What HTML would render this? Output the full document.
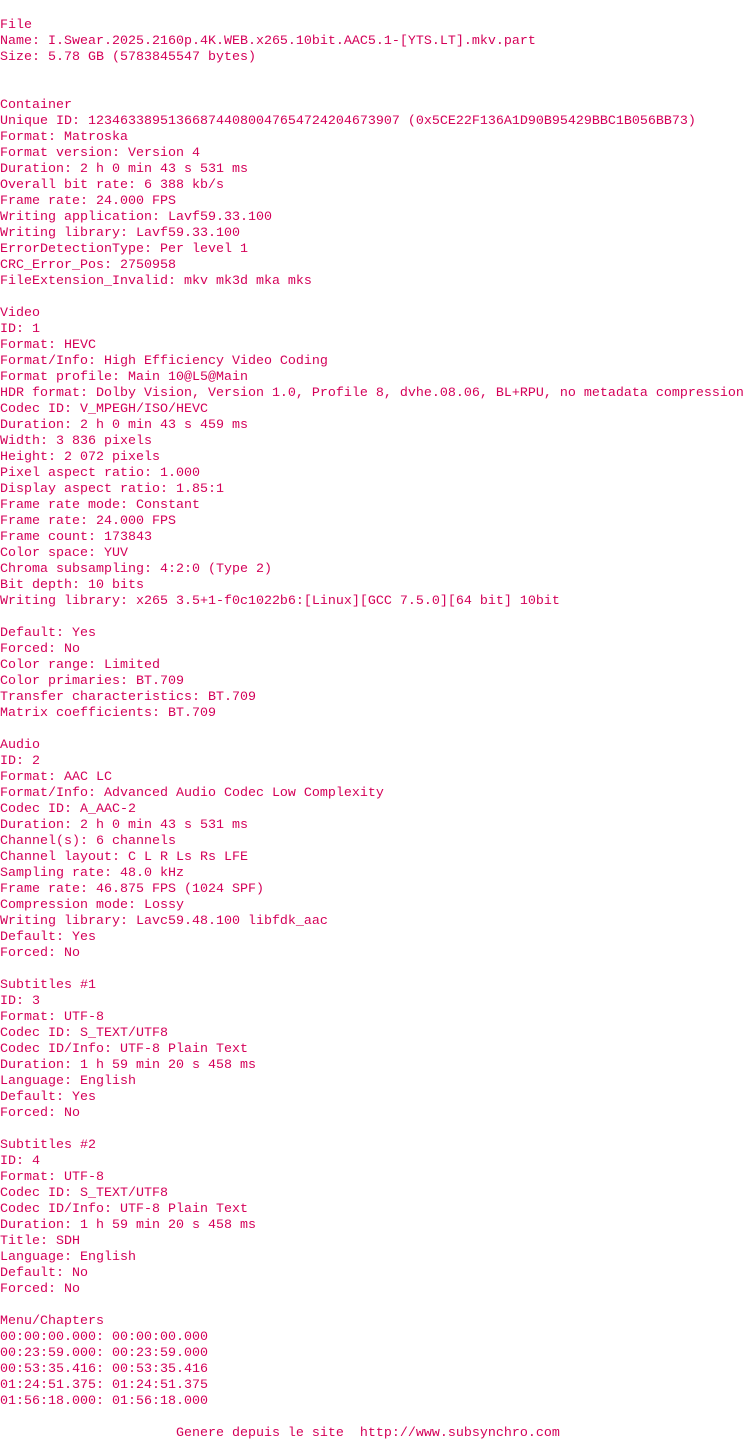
<!DOCTYPE html>
<html><head><meta charset="utf-8"><style>
html,body{margin:0;padding:0;background:#fff;width:744px;height:1440px;overflow:hidden}
pre{margin:0;padding:18px 0 0 0;font-family:"Liberation Mono",monospace;font-size:13.33px;line-height:16px;color:#d40058;white-space:pre}
</style></head><body><pre>File
Name: I.Swear.2025.2160p.4K.WEB.x265.10bit.AAC5.1-[YTS.LT].mkv.part
Size: 5.78 GB (5783845547 bytes)


Container
Unique ID: 123463389513668744080047654724204673907 (0x5CE22F136A1D90B95429BBC1B056BB73)
Format: Matroska
Format version: Version 4
Duration: 2 h 0 min 43 s 531 ms
Overall bit rate: 6 388 kb/s
Frame rate: 24.000 FPS
Writing application: Lavf59.33.100
Writing library: Lavf59.33.100
ErrorDetectionType: Per level 1
CRC_Error_Pos: 2750958
FileExtension_Invalid: mkv mk3d mka mks

Video
ID: 1
Format: HEVC
Format/Info: High Efficiency Video Coding
Format profile: Main 10@L5@Main
HDR format: Dolby Vision, Version 1.0, Profile 8, dvhe.08.06, BL+RPU, no metadata compression
Codec ID: V_MPEGH/ISO/HEVC
Duration: 2 h 0 min 43 s 459 ms
Width: 3 836 pixels
Height: 2 072 pixels
Pixel aspect ratio: 1.000
Display aspect ratio: 1.85:1
Frame rate mode: Constant
Frame rate: 24.000 FPS
Frame count: 173843
Color space: YUV
Chroma subsampling: 4:2:0 (Type 2)
Bit depth: 10 bits
Writing library: x265 3.5+1-f0c1022b6:[Linux][GCC 7.5.0][64 bit] 10bit

Default: Yes
Forced: No
Color range: Limited
Color primaries: BT.709
Transfer characteristics: BT.709
Matrix coefficients: BT.709

Audio
ID: 2
Format: AAC LC
Format/Info: Advanced Audio Codec Low Complexity
Codec ID: A_AAC-2
Duration: 2 h 0 min 43 s 531 ms
Channel(s): 6 channels
Channel layout: C L R Ls Rs LFE
Sampling rate: 48.0 kHz
Frame rate: 46.875 FPS (1024 SPF)
Compression mode: Lossy
Writing library: Lavc59.48.100 libfdk_aac
Default: Yes
Forced: No

Subtitles #1
ID: 3
Format: UTF-8
Codec ID: S_TEXT/UTF8
Codec ID/Info: UTF-8 Plain Text
Duration: 1 h 59 min 20 s 458 ms
Language: English
Default: Yes
Forced: No

Subtitles #2
ID: 4
Format: UTF-8
Codec ID: S_TEXT/UTF8
Codec ID/Info: UTF-8 Plain Text
Duration: 1 h 59 min 20 s 458 ms
Title: SDH
Language: English
Default: No
Forced: No

Menu/Chapters
00:00:00.000: 00:00:00.000
00:23:59.000: 00:23:59.000
00:53:35.416: 00:53:35.416
01:24:51.375: 01:24:51.375
01:56:18.000: 01:56:18.000

                      Genere depuis le site  http://www.subsynchro.com</pre></body></html>
